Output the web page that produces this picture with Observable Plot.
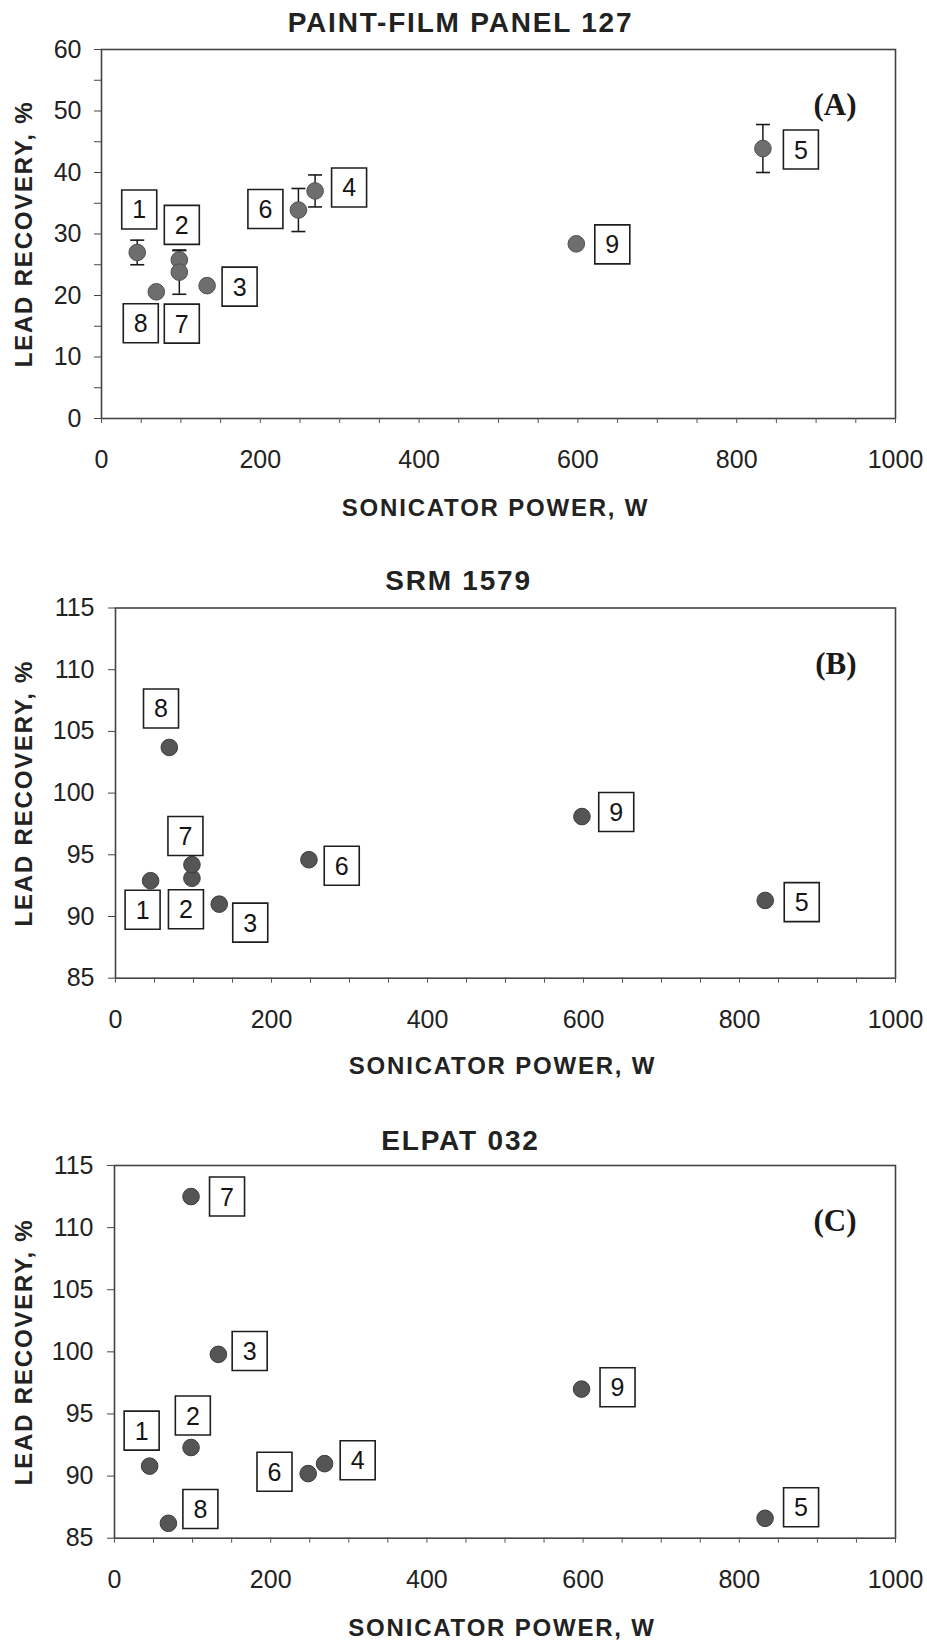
<!DOCTYPE html>
<html><head><meta charset="utf-8">
<script src="https://cdn.jsdelivr.net/npm/d3@7"></script>
<script src="https://cdn.jsdelivr.net/npm/@observablehq/plot@0.6"></script>
<style>
body{margin:0;background:#fff;}
#root{position:relative;width:927px;height:1642px;background:#fff;}
#root svg{position:absolute;left:0;}
</style></head><body><div id="root"></div>
<script>
// ---- data ----
const runIds   = [1, 2, 3, 4, 5, 6, 7, 8, 9];
const powerW   = [45, 98, 133, 269, 833, 248, 98, 69, 598];
const recoveryA = [27.0, 25.8, 21.6, 37.0, 43.9, 33.9, 23.8, 20.6, 28.4];
const errorA    = [2.0, 1.5, 0, 2.6, 3.9, 3.5, 3.6, 0, 0];
const recoveryB = [92.9, 93.1, 91.0, null, 91.3, 94.6, 94.2, 103.7, 98.1];
const recoveryC = [90.8, 92.3, 99.8, 91.0, 86.6, 90.2, 112.5, 86.2, 97.0];
const panelTitles = ["PAINT-FILM PANEL 127", "SRM 1579", "ELPAT 032"];
const panelTags = ["(A)", "(B)", "(C)"];
const xTitle = "SONICATOR POWER, W";
const yTitle = "LEAD RECOVERY, %";
const xTickLabels = [0, 200, 400, 600, 800, 1000];

// ---- layout: label box offsets (px) relative to each point ----
const labelOffsetA = {1:[2,-43],2:[2.5,-35],3:[32.5,1],4:[34,-3.5],5:[38,1],6:[-33,-1],7:[2.5,51.5],8:[-15.5,31.5],9:[36,0.5]};
const labelOffsetB = {1:[-8,29],2:[-6,31],3:[31,18.5],5:[36.5,1.7],6:[32.8,6],7:[-6.5,-28.7],8:[-8.3,-39],9:[34.3,-4.6]};
const labelOffsetC = {1:[-8,-35.5],2:[1.8,-32],3:[31.3,-3.4],4:[33.1,-3.4],5:[36,-11],6:[-33.7,-1.8],7:[36,0],8:[32,-14.3],9:[36,-1.8]};

const FONT = "'Liberation Sans', Arial, Helvetica, sans-serif";
const boxSymbol = {draw(ctx){ ctx.moveTo(-17.5,-19.5); ctx.lineTo(17.5,-19.5); ctx.lineTo(17.5,19.5); ctx.lineTo(-17.5,19.5); ctx.closePath(); }};
const capSymbol = {draw(ctx){ ctx.moveTo(-7,0); ctx.lineTo(7,0); }};

function rows(values, errs) {
  return runIds.map((id, i) => ({id, x: powerW[i], y: values[i], e: errs ? errs[i] : 0}))
               .filter(d => d.y != null);
}

function labelMarks(data, offsets) {
  return data.flatMap(d => {
    const o = offsets[d.id];
    return [
      Plot.dot([d], {x: "x", y: "y", symbol: boxSymbol, fill: "white", stroke: "#1e1e1e", strokeWidth: 1.6, dx: o[0], dy: o[1]}),
      Plot.text([d], {x: "x", y: "y", text: d => String(d.id), dx: o[0], dy: o[1] + 1, fontSize: 25, fill: "#151515", lineAnchor: "middle"})
    ];
  });
}

function panel(cfg) {
  const data = rows(cfg.values, cfg.errors);
  const errData = data.filter(d => d.e > 0);
  const marks = [
    Plot.frame({stroke: "#444", strokeWidth: 1.6}),
    Plot.axisY({ticks: d3.range(cfg.domain[0], cfg.domain[1] + 0.01, 5), tickSize: 7, tickPadding: cfg.tickPad,
      tickFormat: d => (d % cfg.labelStep === 0 ? String(d) : ""), fontSize: 25, fill: "#222", stroke: "#444", label: null}),
    Plot.axisX({ticks: d3.range(0, 1001, 50), tickSize: 5, tickFormat: () => "", stroke: "#555", label: null}),
    Plot.axisX({ticks: xTickLabels, tickSize: 0, tickPadding: 32, tickFormat: d => String(d), fontSize: 25, fill: "#222", label: null}),
    Plot.ruleX(errData, {x: "x", y1: d => d.y - d.e, y2: d => d.y + d.e, stroke: "#1a1a1a", strokeWidth: 1.5}),
    Plot.dot(errData, {x: "x", y: d => d.y - d.e, symbol: capSymbol, stroke: "#1a1a1a", strokeWidth: 1.6, fill: "none"}),
    Plot.dot(errData, {x: "x", y: d => d.y + d.e, symbol: capSymbol, stroke: "#1a1a1a", strokeWidth: 1.6, fill: "none"}),
    Plot.dot(data, {x: "x", y: "y", r: 8.3, fill: cfg.dotFill, stroke: cfg.dotStroke, strokeWidth: 1}),
    ...labelMarks(data, cfg.offsets),
    Plot.text([cfg.title], {text: d => d, frameAnchor: "top", dx: cfg.titleDx, dy: cfg.titleDy, lineAnchor: "middle",
      fontSize: 28, fontWeight: "bold", fill: "#222"}),
    Plot.text([xTitle], {text: d => d, frameAnchor: "bottom", dx: -3, dy: cfg.xTitleDy, lineAnchor: "middle",
      fontSize: 24, fontWeight: "bold", fill: "#222"}),
    Plot.text([yTitle], {text: d => d, frameAnchor: "left", rotate: -90, dx: cfg.yTitleDx, textAnchor: "middle", lineAnchor: "middle",
      fontSize: 24, fontWeight: "bold", fill: "#222"}),
    Plot.text([cfg.tag], {text: d => d, frameAnchor: "top-right", dx: -39, dy: 56, textAnchor: "end", lineAnchor: "middle",
      fontSize: 31, fontWeight: "bold", fontFamily: "'Liberation Serif', 'Times New Roman', serif", fill: "#1a1a1a"})
  ];
  const svg = Plot.plot({
    width: 927, height: cfg.height,
    marginTop: cfg.mt, marginBottom: cfg.mb, marginLeft: cfg.ml, marginRight: 32,
    style: {fontFamily: FONT, fontSize: "25px", background: "white", color: "#222", overflow: "visible"},
    x: {domain: [0, 1000]},
    y: {domain: cfg.domain},
    marks
  });
  const spaced = [cfg.title, xTitle, yTitle];
  d3.select(svg).selectAll("text").each(function() {
    if (spaced.includes(this.textContent)) this.style.letterSpacing = "1.8px";
  });
  svg.style.top = cfg.top + "px";
  return svg;
}

const root = document.getElementById("root");
root.appendChild(panel({top: 0, height: 545, mt: 49, mb: 127, ml: 101, domain: [0, 60], labelStep: 10, tickPad: 13,
  values: recoveryA, errors: errorA, offsets: labelOffsetA, title: panelTitles[0], tag: panelTags[0],
  titleDx: -38, titleDy: -26, xTitleDy: 90, yTitleDx: -77, dotFill: "#6e6e6e", dotStroke: "#505050"}));
root.appendChild(panel({top: 545, height: 555, mt: 62.5, mb: 122.3, ml: 115, domain: [85, 115], labelStep: 5, tickPad: 14,
  values: recoveryB, errors: null, offsets: labelOffsetB, title: panelTitles[1], tag: panelTags[1],
  titleDx: -47, titleDy: -26.5, xTitleDy: 88, yTitleDx: -91, dotFill: "#555", dotStroke: "#3c3c3c"}));
root.appendChild(panel({top: 1100, height: 542, mt: 65, mb: 104.3, ml: 114, domain: [85, 115], labelStep: 5, tickPad: 14,
  values: recoveryC, errors: null, offsets: labelOffsetC, title: panelTitles[2], tag: panelTags[2],
  titleDx: -44.5, titleDy: -24, xTitleDy: 90, yTitleDx: -90, dotFill: "#555", dotStroke: "#3c3c3c"}));
</script>
</body></html>
